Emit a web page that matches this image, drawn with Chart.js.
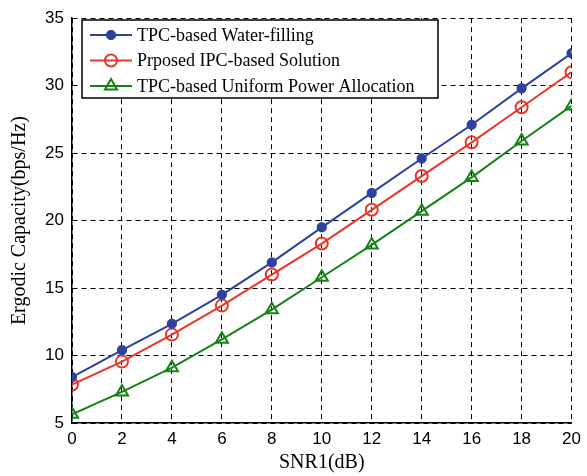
<!DOCTYPE html>
<html lang="en">

<head>
    <meta charset="UTF-8">
    <title>Ergodic Capacity</title>
    <style>
        body { margin: 0; background: #fff; }
        #wrap { width: 587px; height: 476px; }
    </style>
</head>

<body>
    <div id="wrap"><canvas id="capChart" width="587" height="476"></canvas></div>

    <script src="https://cdn.jsdelivr.net/npm/chart.js@4.4.4/dist/chart.umd.min.js"></script>
    <script>
        // data
        const snr = [0, 2, 4, 6, 8, 10, 12, 14, 16, 18, 20];
        const waterFilling = [8.4, 10.4, 12.35, 14.5, 16.9, 19.5, 22.05, 24.6, 27.1, 29.8, 32.4];
        const proposedIPC = [7.85, 9.55, 11.55, 13.7, 16.0, 18.3, 20.8, 23.3, 25.8, 28.4, 31.0];
        const uniformPower = [5.65, 7.3, 9.1, 11.2, 13.4, 15.8, 18.2, 20.7, 23.2, 25.9, 28.5];
        const seriesNames = ['TPC-based Water-filling', 'Prposed IPC-based Solution', 'TPC-based Uniform Power Allocation'];
        const xTicks = [0, 2, 4, 6, 8, 10, 12, 14, 16, 18, 20];
        const yTicks = [5, 10, 15, 20, 25, 30, 35];

        const blue = 'rgb(45, 65, 160)';
        const red = 'rgb(232, 55, 40)';
        const green = 'rgb(20, 130, 20)';

        function toPoints(ys) {
            return snr.map((x, i) => ({ x: x, y: ys[i] }));
        }

        // legend box drawn inside the plot, top-left (like MATLAB)
        const boxLegend = {
            id: 'boxLegend',
            afterDraw(chart) {
                const ctx = chart.ctx;
                const left = 82, top = 20, w = 356, h = 78;
                ctx.save();
                ctx.fillStyle = '#fff';
                ctx.fillRect(left, top, w, h);
                ctx.strokeStyle = '#000';
                ctx.lineWidth = 1.5;
                ctx.strokeRect(left, top, w, h);
                ctx.font = '18px "Liberation Serif", serif';
                ctx.textBaseline = 'middle';
                chart.data.datasets.forEach((ds, i) => {
                    const y = 35 + i * 25.5;
                    ctx.strokeStyle = ds.borderColor;
                    ctx.lineWidth = ds.borderWidth;
                    ctx.beginPath();
                    ctx.moveTo(90, y);
                    ctx.lineTo(132, y);
                    ctx.stroke();
                    ctx.fillStyle = ds.backgroundColor;
                    ctx.lineWidth = ds.pointBorderWidth;
                    Chart.helpers.drawPoint(ctx, {
                        pointStyle: ds.pointStyle,
                        radius: ds.pointRadius,
                        borderWidth: ds.pointBorderWidth
                    }, 111, y);
                    ctx.fillStyle = '#000';
                    ctx.fillText(ds.label, 137, y + 1);
                });
                ctx.restore();
            }
        };

        const capCtx = document.getElementById('capChart').getContext('2d');
        const capChart = new Chart(capCtx, {
            type: 'line',
            data: {
                datasets: [{
                    label: seriesNames[0],
                    data: toPoints(waterFilling),
                    borderColor: blue,
                    backgroundColor: blue,
                    borderWidth: 2,
                    pointStyle: 'star',
                    pointRadius: 5,
                    pointBorderWidth: 3.5
                }, {
                    label: seriesNames[1],
                    data: toPoints(proposedIPC),
                    borderColor: red,
                    backgroundColor: 'rgba(0,0,0,0)',
                    borderWidth: 2,
                    pointStyle: 'circle',
                    pointRadius: 6,
                    pointBorderWidth: 2
                }, {
                    label: seriesNames[2],
                    data: toPoints(uniformPower),
                    borderColor: green,
                    backgroundColor: 'rgba(0,0,0,0)',
                    borderWidth: 2,
                    pointStyle: 'triangle',
                    pointRadius: 7,
                    pointBorderWidth: 2
                }]
            },
            options: {
                responsive: false,
                animation: false,
                layout: { padding: { left: 0, top: 15, right: 13, bottom: 0 } },
                plugins: {
                    legend: { display: false },
                    tooltip: { enabled: false }
                },
                scales: {
                    x: {
                        type: 'linear',
                        min: 0,
                        max: 20,
                        afterBuildTicks: (scale) => { scale.ticks = xTicks.map(v => ({ value: v })); },
                        afterFit: (scale) => { scale.height = 53; },
                        grid: { color: '#000', lineWidth: 1, drawTicks: false },
                        border: { color: '#000', width: 1.5, dash: [5, 4] },
                        ticks: {
                            color: '#000',
                            padding: 6,
                            maxRotation: 0,
                            font: { family: '"Liberation Sans", sans-serif', size: 17 }
                        },
                        title: {
                            display: true,
                            text: 'SNR1(dB)',
                            color: '#000',
                            padding: { top: 4, bottom: 1 },
                            font: { family: '"Liberation Serif", serif', size: 20 }
                        }
                    },
                    y: {
                        min: 5,
                        max: 35,
                        afterBuildTicks: (scale) => { scale.ticks = yTicks.map(v => ({ value: v })); },
                        afterFit: (scale) => { scale.width = 72; },
                        grid: { color: '#000', lineWidth: 1, drawTicks: false },
                        border: { color: '#000', width: 1.5, dash: [5, 4] },
                        ticks: {
                            color: '#000',
                            padding: 8,
                            font: { family: '"Liberation Sans", sans-serif', size: 17 }
                        },
                        title: {
                            display: true,
                            text: 'Ergodic Capacity(bps/Hz)',
                            color: '#000',
                            padding: { top: 8, bottom: 4 },
                            font: { family: '"Liberation Serif", serif', size: 20 }
                        }
                    }
                }
            },
            plugins: [boxLegend]
        });
    </script>
</body>

</html>
